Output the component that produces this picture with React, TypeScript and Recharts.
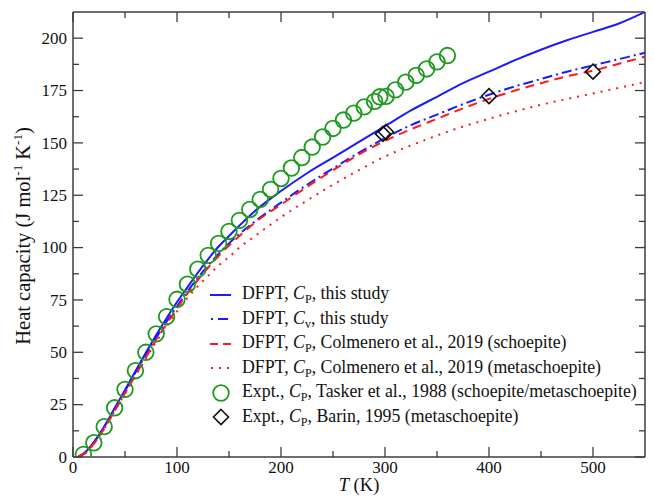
import React from "react";
import { ComposedChart, Line, Scatter, XAxis, YAxis, Label } from "recharts";

// temperature grid of the computed curves (K)
const curveT = [5, 10, 20, 30, 40, 50, 60, 70, 80, 90, 100, 110, 120, 130, 140, 150, 160, 175, 200, 225, 250, 275, 300, 325, 350, 375, 400, 425, 450, 475, 500, 525, 550];

const cpThisStudy = [0.3, 1.5, 7, 14.5, 23.3, 32, 41, 49.8, 58.3, 66.3, 74, 81, 88, 94.5, 100.5, 105.5, 110.5, 117.5, 127, 135.5, 143, 150.5, 158, 165.5, 172, 178.5, 184, 189.5, 194.5, 199, 203, 207, 212.5];
const cvThisStudy = [0.3, 1.5, 7, 14.4, 23, 31.5, 40.3, 48.8, 57, 64.7, 72, 79, 85.5, 91.5, 97, 102, 106.5, 112.5, 121.5, 130, 137.8, 145.3, 152.3, 158.5, 163.5, 168.5, 173, 177, 180.5, 184, 187, 190, 193];
const cpSchoepite = [0.3, 1.2, 6.3, 13.5, 22, 30.5, 39, 47.5, 56, 63.5, 71, 78, 84.5, 90.5, 96, 101, 105.5, 112, 120.5, 129, 137, 144.5, 151, 156.5, 161.5, 166.5, 171, 175, 178.5, 181.8, 184.5, 187.8, 191.2];
const cpMetaschoepite = [0.3, 1.2, 6.3, 13.5, 22, 30.3, 38.7, 47, 55, 62.5, 69.5, 76, 81.5, 86.5, 91.5, 95.5, 100, 105.5, 114.5, 122.5, 130, 137, 143.5, 148.8, 153.5, 157.8, 161.5, 165, 168.2, 171, 173.6, 176.3, 179];

// Tasker et al., 1988
const taskerT = [10, 20, 30, 40, 50, 60, 70, 80, 90, 100, 110, 120, 130, 140, 150, 160, 170, 180, 190, 200, 210, 220, 230, 240, 250, 260, 270, 280, 290, 295, 301, 310, 320, 330, 340, 350, 360];
const taskerCp = [1.2, 6.8, 14.5, 23.5, 32.3, 41.2, 50, 58.8, 67, 75.3, 82.5, 89.7, 96.3, 102, 107.7, 113, 118.2, 123, 127.8, 133, 138, 143, 148, 152.8, 156.9, 160.9, 164.2, 167.2, 169.8, 172, 172.2, 175.3, 179, 182.2, 185.3, 188.7, 191.7];

// Barin, 1995
const barinT = [298, 301, 400, 500];
const barinCp = [154.3, 155.2, 172.3, 184];

const xTicks = [0, 50, 100, 150, 200, 250, 300, 350, 400, 450, 500];
const yTicks = [0, 12.5, 25, 37.5, 50, 62.5, 75, 87.5, 100, 112.5, 125, 137.5, 150, 162.5, 175, 187.5, 200];

const toRows = (ts: number[], vs: number[]) => ts.map((T, i) => ({ T, C: vs[i] }));

const BLUE = "#1a1aff";
const RED = "#ff1a1a";
const GREEN = "#1d9a1d";
const FRAME = "#3c3c3c";
const FONT = "'Liberation Serif', 'Times New Roman', serif";
const serif = { fontFamily: FONT };

const MAJOR = 10;
const MINOR = 6;

const BottomTick = (p: any) => {
  const v = p.payload.value;
  const major = v % 100 === 0;
  return (
    <g>
      <line x1={p.x} y1={p.y} x2={p.x} y2={p.y - (major ? MAJOR : MINOR)} stroke={FRAME} strokeWidth={1.3} />
      {major && (
        <text x={p.x} y={p.y + 16} textAnchor="middle" fontSize={17} style={serif} fill="#111">
          {v}
        </text>
      )}
    </g>
  );
};

const TopTick = (p: any) => {
  const major = p.payload.value % 100 === 0;
  return <line x1={p.x} y1={p.y} x2={p.x} y2={p.y + (major ? MAJOR : MINOR)} stroke={FRAME} strokeWidth={1.3} />;
};

const LeftTick = (p: any) => {
  const v = p.payload.value;
  const major = v % 25 === 0;
  return (
    <g>
      <line x1={p.x} y1={p.y} x2={p.x + (major ? MAJOR : MINOR)} y2={p.y} stroke={FRAME} strokeWidth={1.3} />
      {major && (
        <text x={p.x - 6} y={p.y + 5.8} textAnchor="end" fontSize={17} style={serif} fill="#111">
          {v}
        </text>
      )}
    </g>
  );
};

const RightTick = (p: any) => {
  const major = p.payload.value % 25 === 0;
  return <line x1={p.x} y1={p.y} x2={p.x - (major ? MAJOR : MINOR)} y2={p.y} stroke={FRAME} strokeWidth={1.3} />;
};

const Ring = (p: any) => <circle cx={p.cx} cy={p.cy} r={7.8} fill="none" stroke={GREEN} strokeWidth={1.8} />;

const Diamond = (p: any) => {
  const s = 7.5;
  return (
    <polygon
      points={`${p.cx},${p.cy - s} ${p.cx + s},${p.cy} ${p.cx},${p.cy + s} ${p.cx - s},${p.cy}`}
      fill="none"
      stroke="#111"
      strokeWidth={1.6}
    />
  );
};

const Cp = ({ sub }: { sub: string }) => (
  <span>
    <i>C</i>
    <span style={{ fontSize: "0.68em", position: "relative", top: "0.35em" }}>{sub}</span>
  </span>
);

const legendRows: { sym: string; lead: string; sub: string; tail: string }[] = [
  { sym: "solid", lead: "DFPT, ", sub: "P", tail: ", this study" },
  { sym: "dashdot", lead: "DFPT, ", sub: "v", tail: ", this study" },
  { sym: "dashed", lead: "DFPT, ", sub: "P", tail: ", Colmenero et al., 2019 (schoepite)" },
  { sym: "dotted", lead: "DFPT, ", sub: "P", tail: ", Colmenero et al., 2019 (metaschoepite)" },
  { sym: "circle", lead: "Expt., ", sub: "P", tail: ", Tasker et al., 1988 (schoepite/metaschoepite)" },
  { sym: "diamond", lead: "Expt., ", sub: "P", tail: ", Barin, 1995 (metaschoepite)" },
];

const LegendSymbol = ({ sym }: { sym: string }) => (
  <svg width={30} height={20} style={{ verticalAlign: "middle", marginRight: 5 }}>
    {sym === "solid" && <line x1={3} y1={10} x2={24} y2={10} stroke={BLUE} strokeWidth={2} />}
    {sym === "dashdot" && <line x1={4} y1={10} x2={24} y2={10} stroke={BLUE} strokeWidth={2} strokeDasharray="2 5 10 4" />}
    {sym === "dashed" && <line x1={3} y1={10} x2={24} y2={10} stroke={RED} strokeWidth={2} strokeDasharray="8 5" />}
    {sym === "dotted" && <line x1={4} y1={10} x2={24} y2={10} stroke={RED} strokeWidth={2} strokeDasharray="2 6" />}
    {sym === "circle" && <circle cx={14} cy={10} r={7.8} fill="none" stroke={GREEN} strokeWidth={1.8} />}
    {sym === "diamond" && <polygon points="14,2.5 21.5,10 14,17.5 6.5,10" fill="none" stroke="#111" strokeWidth={1.6} />}
  </svg>
);

export default function App() {
  return (
    <div style={{ position: "absolute", left: 0, top: 0, width: 654, height: 498, background: "#fff", fontFamily: FONT }}>
      <ComposedChart width={654} height={498} margin={{ top: 0, right: 0, bottom: 0, left: 0 }} style={serif}>
        <XAxis
          xAxisId={0}
          dataKey="T"
          type="number"
          domain={[0, 550]}
          ticks={xTicks}
          interval={0}
          height={41}
          allowDataOverflow
          tickSize={0}
          tickMargin={0}
          tickLine={false}
          axisLine={{ stroke: FRAME, strokeWidth: 1.5 }}
          tick={BottomTick}
        >
          <Label
            content={() => (
              <text x={359} y={491} textAnchor="middle" fontSize={18.5} style={serif} fill="#111">
                <tspan fontStyle="italic">T</tspan> (K)
              </text>
            )}
          />
        </XAxis>
        <XAxis
          xAxisId="top"
          orientation="top"
          dataKey="T"
          type="number"
          domain={[0, 550]}
          ticks={xTicks}
          interval={0}
          height={12}
          allowDataOverflow
          tickSize={0}
          tickMargin={0}
          tickLine={false}
          axisLine={{ stroke: FRAME, strokeWidth: 1.5 }}
          tick={TopTick}
        />
        <YAxis
          yAxisId={0}
          type="number"
          domain={[0, 212.5]}
          ticks={yTicks}
          interval={0}
          width={73}
          allowDataOverflow
          tickSize={0}
          tickMargin={0}
          tickLine={false}
          axisLine={{ stroke: FRAME, strokeWidth: 1.5 }}
          tick={LeftTick}
        >
          <Label
            content={() => (
              <text transform="translate(30,236) rotate(-90)" textAnchor="middle" fontSize={20.5} style={serif} fill="#111">
                Heat capacity (J mol
                <tspan dy={-8} fontSize={13}>-1</tspan>
                <tspan dy={8}> K</tspan>
                <tspan dy={-8} fontSize={13}>-1</tspan>
                <tspan dy={8}>)</tspan>
              </text>
            )}
          />
        </YAxis>
        <YAxis
          yAxisId="right"
          orientation="right"
          type="number"
          domain={[0, 212.5]}
          ticks={yTicks}
          interval={0}
          width={9}
          allowDataOverflow
          tickSize={0}
          tickMargin={0}
          tickLine={false}
          axisLine={{ stroke: FRAME, strokeWidth: 1.5 }}
          tick={RightTick}
        />

        <Line data={toRows(curveT, cpThisStudy)} dataKey="C" type="monotone" stroke={BLUE} strokeWidth={2} dot={false} isAnimationActive={false} />
        <Line data={toRows(curveT, cvThisStudy)} dataKey="C" type="monotone" stroke={BLUE} strokeWidth={2} strokeDasharray="10 4 2 4" dot={false} isAnimationActive={false} />
        <Line data={toRows(curveT, cpSchoepite)} dataKey="C" type="monotone" stroke={RED} strokeWidth={2} strokeDasharray="9 6" dot={false} isAnimationActive={false} />
        <Line data={toRows(curveT, cpMetaschoepite)} dataKey="C" type="monotone" stroke={RED} strokeWidth={2} strokeDasharray="2 6" dot={false} isAnimationActive={false} />
        <Scatter data={toRows(taskerT, taskerCp)} dataKey="C" shape={Ring} isAnimationActive={false} />
        <Scatter data={toRows(barinT, barinCp)} dataKey="C" shape={Diamond} isAnimationActive={false} />
      </ComposedChart>

      <div style={{ position: "absolute", left: 207, top: 281, fontSize: 17.8, color: "#111", whiteSpace: "nowrap" }}>
        {legendRows.map((r) => (
          <div key={r.tail + r.sub} style={{ height: 24.5, lineHeight: "24.5px" }}>
            <LegendSymbol sym={r.sym} />
            {r.lead}
            <Cp sub={r.sub} />
            {r.tail}
          </div>
        ))}
      </div>
    </div>
  );
}
